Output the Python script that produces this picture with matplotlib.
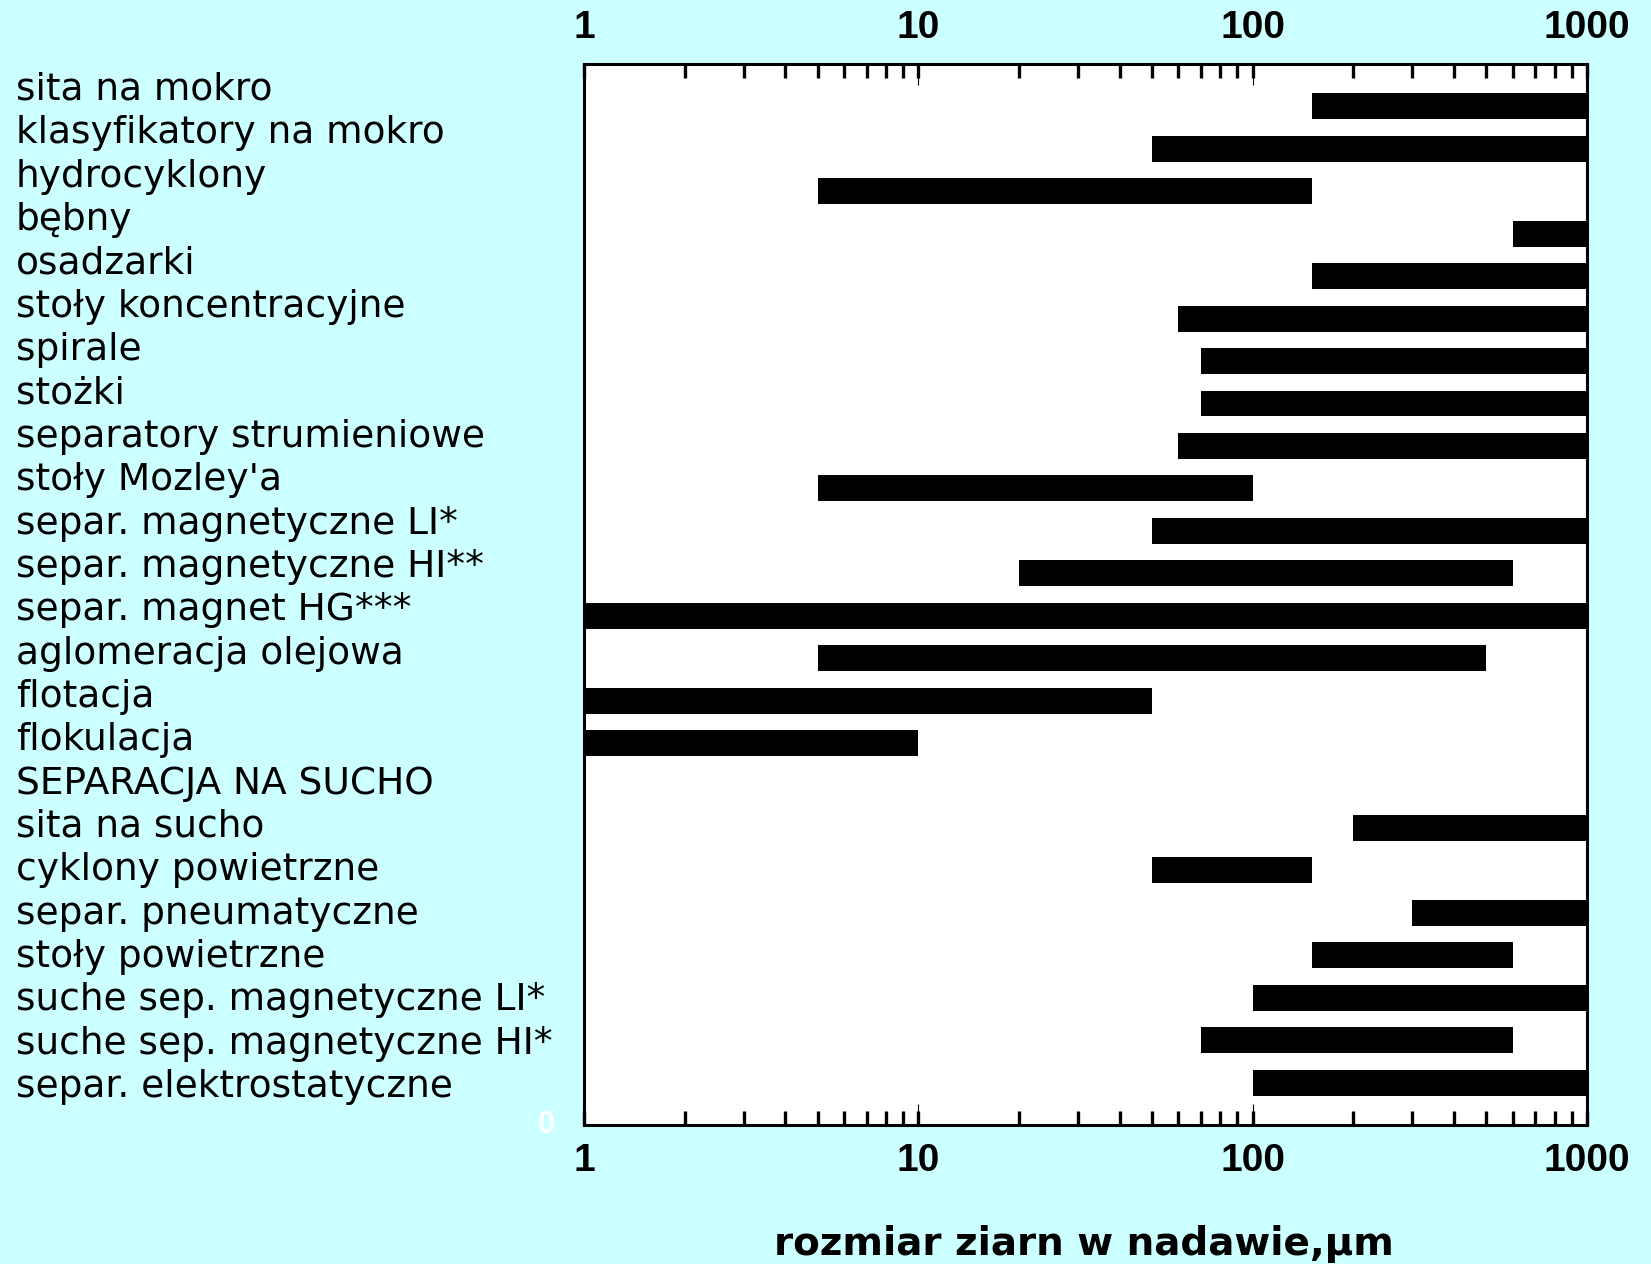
import numpy as np
import matplotlib
matplotlib.use("Agg")
import matplotlib.pyplot as plt
from matplotlib.ticker import NullFormatter, FixedLocator

plt.rcParams['font.family'] = ['Liberation Sans', 'DejaVu Sans']

# metody separacji i zakresy rozmiaru ziarn (um), od góry do dołu
metody = [
    "sita na mokro", "klasyfikatory na mokro", "hydrocyklony", "bębny",
    "osadzarki", "stoły koncentracyjne", "spirale", "stożki",
    "separatory strumieniowe", "stoły Mozley'a", "separ. magnetyczne LI*",
    "separ. magnetyczne HI**", "separ. magnet HG***", "aglomeracja olejowa",
    "flotacja", "flokulacja", "SEPARACJA NA SUCHO", "sita na sucho",
    "cyklony powietrzne", "separ. pneumatyczne", "stoły powietrzne",
    "suche sep. magnetyczne LI*", "suche sep. magnetyczne HI*",
    "separ. elektrostatyczne",
]
od = [150, 50, 5, 600, 150, 60, 70, 70, 60, 5, 50, 20, 1, 5, 1, 1,
      None, 200, 50, 300, 150, 100, 70, 100]
do = [1000, 1000, 150, 1000, 1000, 1000, 1000, 1000, 1000, 100, 1000, 600,
      1000, 500, 50, 10, None, 1000, 150, 1000, 600, 1000, 600, 1000]

W, H = 1651, 1264
fig = plt.figure(figsize=(W / 100, H / 100), dpi=100, facecolor='#ccffff')
ax = fig.add_axes([584 / W, 1 - 1125 / H, (1587 - 584) / W, (1125 - 64) / H])
ax.set_facecolor('white')

n = len(metody)
for i, (a, b) in enumerate(zip(od, do)):
    if a is None:
        continue
    y = n - i
    ax.barh(y, b - a, left=a, height=0.61, color='black')

ax.set_xscale('log')
ax.set_xlim(1, 1000)
ax.set_ylim(0, n + 1)

# ticks: grube krótkie na każdej wartości, cienkie dłuższe na dekadach
ax.xaxis.set_major_locator(FixedLocator([1, 10, 100, 1000]))
ax.xaxis.set_minor_locator(FixedLocator(
    [k * 10 ** d for d in range(3) for k in range(1, 10)] + [1000]))
ax.xaxis.remove_overlapping_locs = False
ax.xaxis.set_minor_formatter(NullFormatter())
ax.set_xticklabels(['1', '10', '100', '1000'])
ax.tick_params(axis='x', which='major', direction='in', length=15, width=0.8,
               top=True, labeltop=True, bottom=True, labelbottom=True,
               labelsize=28, pad=13)
ax.tick_params(axis='x', which='minor', direction='in', length=10, width=2.4,
               top=True, bottom=True)
for lab in ax.get_xticklabels():
    lab.set_fontweight('bold')
ax.set_yticks([])
for s in ax.spines.values():
    s.set_linewidth(2.2)

fig.text(1084 / W, 1 - 1255 / H, 'rozmiar ziarn w nadawie,μm',
         family='DejaVu Sans', fontsize=28, fontweight='bold',
         ha='center', va='baseline')

# biała pozostałość etykiety osi y
fig.text(546 / W, 1 - 1125 / H, '0', color='white', fontsize=22,
         fontweight='bold', ha='center', va='center')

for i, m in enumerate(metody):
    fig.text(16 / W, 1 - (100 + 43.35 * i) / H, m, family='DejaVu Sans',
             fontsize=27, ha='left', va='baseline')

fig.savefig('out.png', dpi=100, facecolor=fig.get_facecolor())
